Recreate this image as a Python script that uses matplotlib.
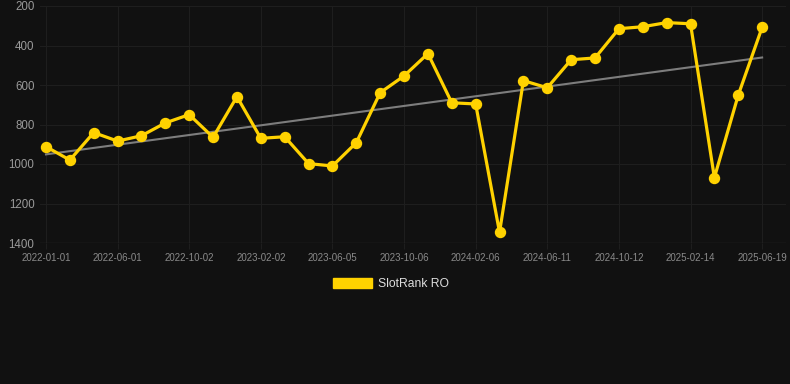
import matplotlib
matplotlib.use("Agg")
import matplotlib.pyplot as plt
from matplotlib.patches import Patch
import numpy as np

dates = ["2022-01-01", "2022-02-20", "2022-04-11", "2022-06-01", "2022-07-12", "2022-08-22",
         "2022-10-02", "2022-11-12", "2022-12-23", "2023-02-02", "2023-03-15", "2023-04-25",
         "2023-06-05", "2023-07-16", "2023-08-26", "2023-10-06", "2023-11-16", "2023-12-27",
         "2024-02-06", "2024-03-18", "2024-04-30", "2024-06-11", "2024-07-22", "2024-09-01",
         "2024-10-12", "2024-11-23", "2025-01-03", "2025-02-14", "2025-03-27", "2025-05-08",
         "2025-06-19"]
rank = [912, 980, 841, 884, 857, 792, 750, 865, 659, 870, 862, 998, 1010, 892, 639,
        554, 441, 690, 696, 1346, 578, 614, 472, 463, 315, 305, 284, 290, 1069, 651, 308]
yticks = [200, 400, 600, 800, 1000, 1200, 1400]
series_name = "SlotRank RO"

BG = "#111111"
GOLD = "#FFD200"
plt.rcParams['font.family'] = ['Liberation Sans', 'DejaVu Sans']

fig = plt.figure(figsize=(7.9, 3.84), dpi=100, facecolor=BG)
ax = fig.add_axes([40/790, 1-243/384, (786-40)/790, (243-6)/384], facecolor=BG)

x = np.arange(len(rank))
coef = np.polyfit(x, rank, 1)
ax.plot(x, np.polyval(coef, x), color="#7d7d7d", lw=1.5, zorder=2)
ax.plot(x, rank, color=GOLD, lw=2.3, marker="o", markersize=7.2, zorder=3, clip_on=False)

ax.set_ylim(1400, 200)
ax.set_xlim(-0.25, 31.0)
ax.set_yticks(yticks)
ax.set_xticks(x[::3])
ax.set_xticklabels(dates[::3])
ax.grid(True, color="#1e1e1e", lw=0.8)
ax.set_axisbelow(True)
for s in ax.spines.values():
    s.set_visible(False)
ax.tick_params(axis='y', length=0, colors="#9a9a9a", labelsize=8.3, pad=4)
ax.tick_params(axis='x', length=4, color="#1e1e1e", colors="#8a8a8a", labelsize=7, pad=3)
ax.axhline(1400, color="#2a2a2a", lw=1, zorder=1)

fig.legend(handles=[Patch(facecolor=GOLD, edgecolor=GOLD)], labels=[series_name],
           loc="center", bbox_to_anchor=(391/790, 1-284/384), frameon=False,
           fontsize=8.7, labelcolor="#dddddd", handlelength=3.3, handleheight=0.95,
           handletextpad=0.5)

fig.savefig("out.png", dpi=100, facecolor=BG)
